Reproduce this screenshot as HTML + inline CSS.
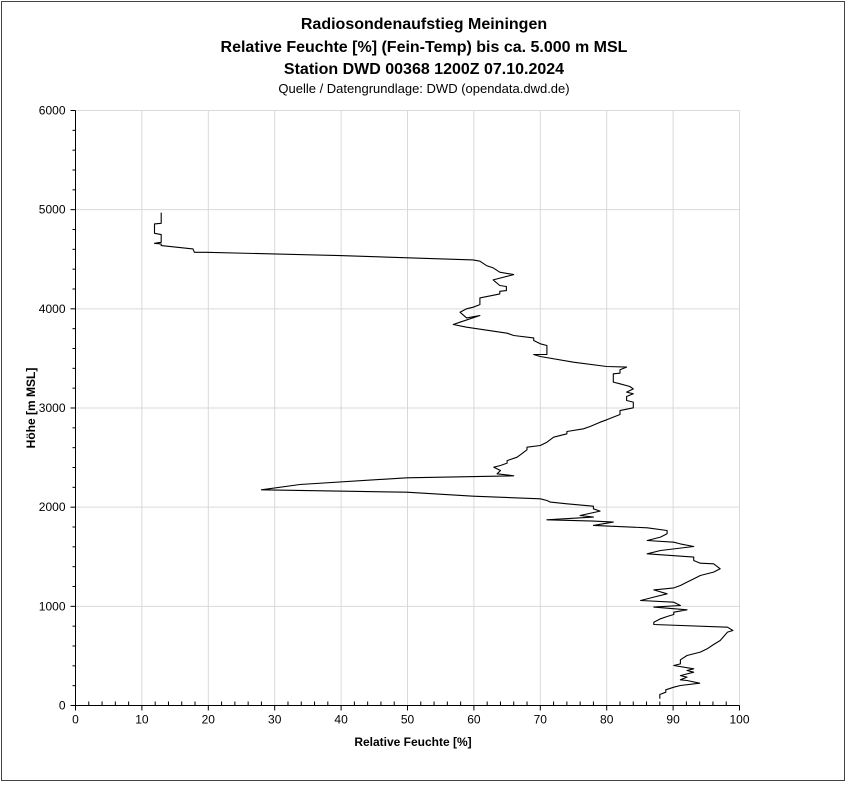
<!DOCTYPE html>
<html><head><meta charset="utf-8"><style>
body{margin:0;background:#fff;}
svg text{font-family:"Liberation Sans",Calibri,sans-serif;fill:#000;}
</style></head><body>
<svg id="chart" width="847" height="784" xmlns="http://www.w3.org/2000/svg">
<rect x="1.5" y="1.5" width="843" height="779" fill="#fff" stroke="#444" stroke-width="1"/>
<text x="424" y="29" text-anchor="middle" font-size="16" font-weight="bold">Radiosondenaufstieg Meiningen</text>
<text x="424" y="52" text-anchor="middle" font-size="16" font-weight="bold">Relative Feuchte [%] (Fein-Temp) bis ca. 5.000 m MSL</text>
<text x="424" y="74" text-anchor="middle" font-size="16" font-weight="bold">Station DWD 00368 1200Z 07.10.2024</text>
<text x="424" y="93" text-anchor="middle" font-size="13">Quelle / Datengrundlage: DWD (opendata.dwd.de)</text>
<g id="grid"></g>
<g id="axes"></g>
<path id="series" fill="none" stroke="#000" stroke-width="1.1" stroke-linejoin="round"/>
<text x="413" y="746" text-anchor="middle" font-size="12" font-weight="bold">Relative Feuchte [%]</text>
<text transform="translate(35,408) rotate(-90)" text-anchor="middle" font-size="12" font-weight="bold">Höhe [m MSL]</text>
</svg>
<script>
const xTicks=[0,10,20,30,40,50,60,70,80,90,100];
const yTicks=[0,1000,2000,3000,4000,5000,6000];
const humidity=[88.0,88.0,88.9,88.9,90.1,91.1,94.0,92.1,91.1,92.1,91.1,93.1,92.1,93.1,90.1,91.1,91.1,92.1,94.1,95.1,96.1,97.1,98.2,99.0,98.2,87.1,87.1,88.1,89.1,90.1,90.1,92.1,87.1,91.1,90.1,85.1,87.1,89.1,87.1,90.1,91.1,92.1,93.1,94.1,96.1,97.1,96.1,94.1,93.1,93.1,86.1,88.1,93.1,91.1,90.1,86.1,88.1,89.1,89.1,86.1,78.0,81.0,78.0,71.0,78.0,76.0,79.0,78.0,78.0,74.0,71.5,71.0,70.0,
59.9,49.9,28.0,33.8,49.9,66.0,63.5,64.0,63.0,64.0,65.0,65.0,66.5,67.2,68.0,68.0,70.0,71.0,72.0,74.0,74.0,76.5,77.5,79.0,80.0,82.0,82.0,84.0,84.0,83.0,83.0,84.0,83.0,84.0,83.5,82.0,81.0,81.0,82.0,82.0,83.0,80.0,75.0,70.0,69.0,71.0,71.0,70.0,69.0,69.0,66.0,65.0,
58.9,56.9,57.9,60.9,58.9,57.9,58.9,59.9,60.9,60.9,63.9,63.9,64.9,64.9,63.9,62.9,66.0,63.9,62.9,61.9,60.9,59.9,39.8,19.7,17.9,17.7,12.9,12.9,11.9,12.9,12.9,11.9,11.9,12.9,12.9];
const height=[68,111,134,158,185,202,225,252,259,286,302,336,353,370,403,420,461,504,538,571,615,655,740,756,790,817,840,874,897,918,941,965,992,1008,1042,1059,1093,1126,1166,1186,1210,1244,1277,1311,1345,1378,1429,1435,1462,1496,1530,1563,1603,1630,1647,1664,1698,1731,1765,1792,1816,1849,1859,1873,1900,1916,1960,1984,2010,2034,2051,2067,2084,
2111,2151,2175,2229,2296,2316,2336,2370,2403,2420,2444,2470,2504,2538,2578,2605,2622,2655,2706,2740,2763,2790,2813,2857,2881,2934,2974,3002,3059,3076,3116,3143,3160,3193,3217,3244,3261,3345,3351,3385,3412,3418,3462,3519,3539,3539,3630,3647,3681,3707,3731,3754,
3815,3842,3865,3933,3909,3966,4000,4016,4043,4110,4151,4177,4184,4225,4235,4292,4345,4369,4413,4436,4480,4493,4537,4570,4570,4604,4638,4654,4661,4671,4749,4762,4856,4863,4970];
const X0=75.5,X1=739.5,Y0=705.5,Y1=110.5;
const sx=v=>X0+(v-0)/(100-0)*(X1-X0);
const sy=v=>Y0-(v-0)/(6000-0)*(Y0-Y1);
const NS='http://www.w3.org/2000/svg';
const grid=document.getElementById('grid'),axes=document.getElementById('axes');
function ln(p,x1,y1,x2,y2,c,name){const l=document.createElementNS(NS,'line');l.setAttribute('x1',x1);l.setAttribute('y1',y1);l.setAttribute('x2',x2);l.setAttribute('y2',y2);l.setAttribute('stroke',c);


p.appendChild(l);return l;}
function tx(x,y,s,anchor,name){const t=document.createElementNS(NS,'text');t.setAttribute('x',x);t.setAttribute('y',y);t.setAttribute('font-size','12');t.setAttribute('text-anchor',anchor);t.textContent=s;


axes.appendChild(t);}
xTicks.forEach(v=>{if(v>0)ln(grid,sx(v),Y1,sx(v),Y0,'#d9d9d9','x-gridline');ln(axes,sx(v),Y0,sx(v),Y0+5,'#000','x-major-tick');tx(sx(v),Y0+18,String(v),'middle','x-tick-label');});
for(let v=2;v<100;v+=2){if(v%10)ln(axes,sx(v),Y0-4,sx(v),Y0,'#000','x-minor-tick');}
yTicks.forEach(v=>{if(v>0)ln(grid,X0,sy(v),X1,sy(v),'#d9d9d9','y-gridline');ln(axes,X0-5,sy(v),X0,sy(v),'#000','y-major-tick');tx(X0-10,sy(v)+4,String(v),'end','y-tick-label');});
for(let v=200;v<6000;v+=200){if(v%1000)ln(axes,X0-3,sy(v),X0,sy(v),'#000','y-minor-tick');}
ln(axes,X0,Y1,X0,Y0,'#000','y-axis-line');
ln(axes,X0,Y0,X1,Y0,'#000','x-axis-line');
let d='';humidity.forEach((v,i)=>{d+=(i?'L':'M')+sx(v).toFixed(1)+' '+sy(height[i]).toFixed(1);});
document.getElementById('series').setAttribute('d',d);
</script>
</body></html>
